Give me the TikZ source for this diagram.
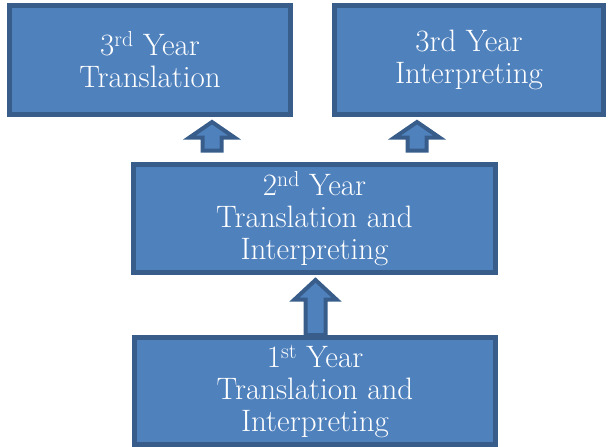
\documentclass[tikz,border=0pt]{standalone}
\usetikzlibrary{calc}

\definecolor{boxfill}{HTML}{4F81BD}
\definecolor{boxline}{HTML}{385D8A}

% block arrow pointing up: base point, length, head length, head half width, shaft half width
\newcommand{\blockup}[5]{%
  \draw[uparrow] ($#1+(-#5,0)$) -- ++(0,-#2+#3) -- ++(-#4+#5,0)
    -- ++(#4,-#3) -- ++(#4,#3) -- ++(-#4+#5,0) -- ++(0,#2-#3) -- cycle;}

\begin{document}
\begin{tikzpicture}[
    x=1pt, y=-1pt,
    yearbox/.style={
      rectangle,
      draw=boxline,
      fill=boxfill,
      line width=5pt,
      text=white,
      align=center,
      inner sep=0pt,
      font=\fontsize{31}{32}\selectfont
    },
    uparrow/.style={
      draw=boxline,
      fill=boxfill,
      line width=4pt,
      line join=miter
    }
  ]
  \useasboundingbox (0,0) rectangle (608,447);

  \node[yearbox, minimum width=281pt, minimum height=109pt] (trans3) at (150,60)
    {3\textsuperscript{rd} Year\\Translation};
  \node[yearbox, minimum width=269pt, minimum height=109pt] (interp3) at (469,60)
    {3rd Year\\Interpreting};

  \node[yearbox, minimum width=362pt, minimum height=108pt] (year2) at (314.5,218.5)
    {2\textsuperscript{nd} Year\\Translation and\\Interpreting};

  \node[yearbox, minimum width=361pt, minimum height=107pt] (year1) at (315,391)
    {1\textsuperscript{st} Year\\Translation and\\Interpreting};

  \coordinate (a1) at ($(year2.north)+(-102.5,-11.5)$);
  \coordinate (a2) at ($(year2.north)+(102.5,-11.5)$);
  \coordinate (a3) at ($(year1.north)+(0.5,0)$);

  \blockup{(a1)}{28.5}{15.5}{22.5}{9.5}
  \blockup{(a2)}{28.5}{15.5}{22.5}{9.5}
  \blockup{(a3)}{55}{19.5}{21}{10}

\end{tikzpicture}
\end{document}
